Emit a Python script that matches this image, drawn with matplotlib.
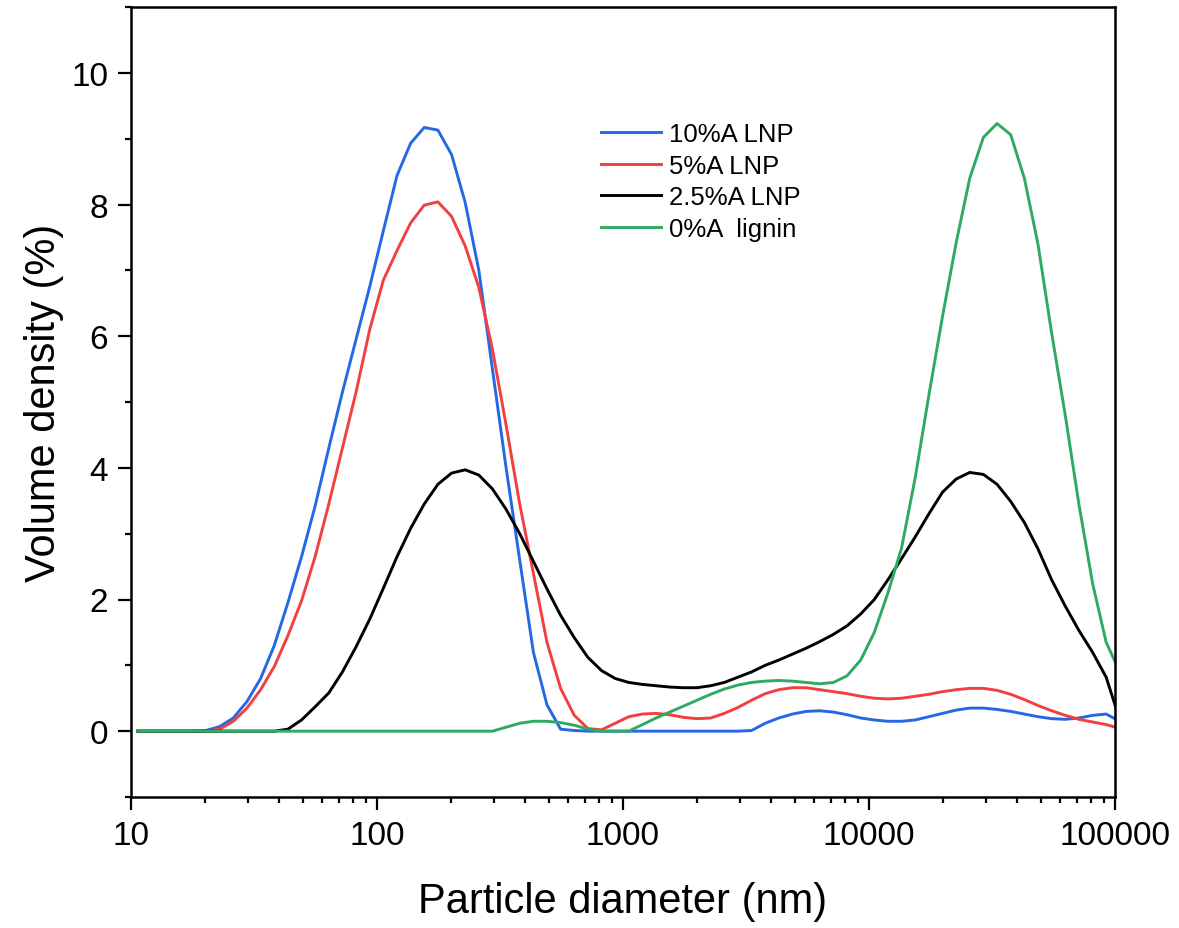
import matplotlib
matplotlib.use("Agg")
import matplotlib.pyplot as plt
from matplotlib.ticker import LogLocator, MultipleLocator, FixedLocator, NullFormatter

# particle size classes (nm), log spaced
diameter = [
    10.66, 12.11, 13.76, 15.64, 17.77, 20.18, 22.94, 26.06, 29.61, 33.65,
    38.22, 43.42, 49.34, 56.04, 63.68, 72.35, 82.18, 93.39, 106.1, 120.6,
    137.0, 155.6, 176.8, 200.9, 228.3, 259.4, 294.6, 334.8, 380.3, 432.2,
    490.9, 557.7, 633.8, 720.0, 818.2, 929.4, 1056, 1200, 1363, 1549,
    1760, 1999, 2272, 2581, 2933, 3332, 3785, 4300, 4886, 5551,
    6306, 7164, 8141, 9250, 10510, 11940, 13560, 15410, 17510, 19900,
    22610, 25680, 29180, 33160, 37670, 42800, 48620, 55250, 62770, 71320,
    81020, 92050, 104600,
]

a10_lnp = [
    0, 0, 0, 0, 0, 0.01, 0.07, 0.2, 0.45, 0.8,
    1.3, 1.95, 2.65, 3.42, 4.3, 5.15, 5.95, 6.75, 7.6, 8.44,
    8.93, 9.17, 9.13, 8.76, 8.03, 7.0, 5.5, 4.0, 2.6, 1.2,
    0.4, 0.03, 0.01, 0, 0, 0, 0, 0, 0, 0,
    0, 0, 0, 0, 0, 0.01, 0.12, 0.2, 0.26, 0.3,
    0.31, 0.29, 0.25, 0.2, 0.17, 0.15, 0.15, 0.17, 0.22, 0.27,
    0.32, 0.35, 0.35, 0.33, 0.3, 0.26, 0.22, 0.19, 0.18, 0.2,
    0.24, 0.26, 0.15,
]

a5_lnp = [
    0, 0, 0, 0, 0, 0, 0.03, 0.15, 0.35, 0.63,
    0.98, 1.45, 1.98, 2.65, 3.45, 4.3, 5.15, 6.1, 6.85, 7.3,
    7.72, 7.99, 8.04, 7.82, 7.37, 6.74, 5.8, 4.65, 3.45, 2.4,
    1.35, 0.65, 0.24, 0.04, 0.02, 0.12, 0.22, 0.26, 0.27, 0.25,
    0.21, 0.19, 0.2, 0.27, 0.36, 0.47, 0.57, 0.63, 0.66, 0.66,
    0.63, 0.6, 0.57, 0.53, 0.5, 0.49, 0.5, 0.53, 0.56, 0.6,
    0.63, 0.65, 0.65, 0.62, 0.56, 0.48, 0.39, 0.31, 0.24, 0.18,
    0.14, 0.1, 0.04,
]

a25_lnp = [
    0, 0, 0, 0, 0, 0, 0, 0, 0, 0,
    0, 0.03, 0.17, 0.37, 0.58, 0.9, 1.28, 1.7, 2.17, 2.65,
    3.08, 3.45, 3.75, 3.92, 3.97, 3.89, 3.68, 3.37, 3.0, 2.58,
    2.16, 1.76, 1.42, 1.12, 0.92, 0.8, 0.74, 0.71, 0.69, 0.67,
    0.66, 0.66, 0.69, 0.74, 0.82, 0.9, 1.0, 1.08, 1.17, 1.26,
    1.36, 1.47, 1.6, 1.78, 2.0, 2.3, 2.62, 2.95, 3.3, 3.63,
    3.83, 3.93, 3.9, 3.75, 3.49, 3.17, 2.77, 2.3, 1.9, 1.53,
    1.2, 0.82, 0.17,
]

a0_lignin = [
    0, 0, 0, 0, 0, 0, 0, 0, 0, 0,
    0, 0, 0, 0, 0, 0, 0, 0, 0, 0,
    0, 0, 0, 0, 0, 0, 0, 0.06, 0.12, 0.15,
    0.15, 0.13, 0.09, 0.03, 0, 0, 0, 0.1, 0.2, 0.29,
    0.38, 0.47, 0.56, 0.64, 0.7, 0.74, 0.76, 0.77, 0.76, 0.74,
    0.72, 0.74, 0.84, 1.08, 1.5, 2.1, 2.78, 3.85, 5.1, 6.3,
    7.42, 8.4, 9.02, 9.23, 9.06, 8.4, 7.4, 6.05, 4.8, 3.45,
    2.25, 1.35, 0.9,
]

series = [
    ("10%A LNP", a10_lnp, "#2468e6"),
    ("5%A LNP", a5_lnp, "#f24040"),
    ("2.5%A LNP", a25_lnp, "#000000"),
    ("0%A  lignin", a0_lignin, "#2faa62"),
]

plt.rcParams["font.family"] = ["Liberation Sans", "DejaVu Sans"]

fig = plt.figure(figsize=(11.79, 9.29), dpi=100)
ax = fig.add_axes([131 / 1179, 1 - 798 / 929, (1115 - 131) / 1179, (798 - 8) / 929])

for label, vals, color in series:
    ax.plot(diameter, vals, color=color, lw=2.1, label=label)

ax.set_xscale("log")
ax.set_xlim(10, 100000)
ax.set_ylim(-1, 11)

ax.xaxis.set_major_locator(FixedLocator([10, 100, 1000, 10000, 100000]))
ax.xaxis.set_minor_locator(LogLocator(base=10, subs=range(2, 10), numticks=20))
ax.xaxis.set_minor_formatter(NullFormatter())
ax.set_xticklabels(["10", "100", "1000", "10000", "100000"])
ax.yaxis.set_major_locator(FixedLocator([0, 2, 4, 6, 8, 10]))
ax.yaxis.set_minor_locator(MultipleLocator(1))

ax.tick_params(which="major", direction="out", length=9.5, width=1.6,
               labelsize=24, pad=7, top=False, right=False)
ax.tick_params(which="minor", direction="out", length=4.5, width=1.6,
               top=False, right=False)
for spine in ax.spines.values():
    spine.set_linewidth(1.8)

ax.set_xlabel("Particle diameter (nm)", fontsize=30, labelpad=22)
ax.set_ylabel("Volume density (%)", fontsize=30, labelpad=5)

leg = ax.legend(loc="upper left", bbox_to_anchor=(601 / 1179, 1 - 123 / 929),
                bbox_transform=fig.transFigure, frameon=False, fontsize=18.5,
                handlelength=2.35, handletextpad=0.3, labelspacing=0.3,
                borderpad=0, borderaxespad=0)

fig.savefig("out.png", dpi=100)
